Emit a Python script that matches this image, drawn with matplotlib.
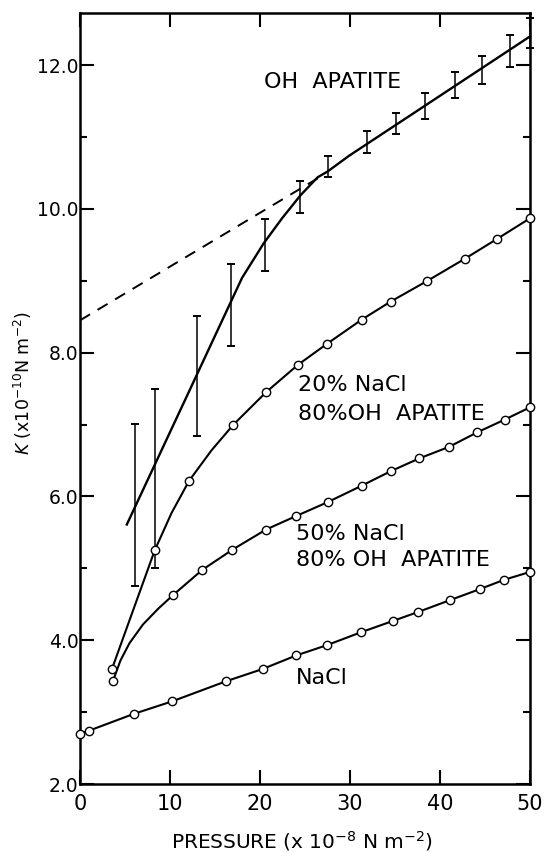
import matplotlib
matplotlib.use("Agg")
import numpy as np
import matplotlib.pyplot as plt

plt.rcParams["font.family"] = "DejaVu Sans"
plt.rcParams["mathtext.fontset"] = "dejavusans"

# NaCl
nacl_x = [0.0, 0.96, 5.96, 10.24, 16.24, 20.3, 24.05, 27.4, 31.2, 34.8, 37.5, 41.15, 44.4, 47.1, 50.0]
nacl_y = [2.70, 2.74, 2.975, 3.15, 3.43, 3.60, 3.79, 3.93, 4.11, 4.27, 4.39, 4.56, 4.71, 4.84, 4.95]

# 50% NaCl mixture (measured points)
mix50_x = [3.65, 10.35, 13.6, 16.94, 20.67, 24.05, 27.5, 31.3, 34.5, 37.7, 41.0, 44.1, 47.2, 50.0]
mix50_y = [3.43, 4.63, 4.98, 5.26, 5.54, 5.73, 5.92, 6.15, 6.35, 6.53, 6.69, 6.89, 7.07, 7.24]
# hand-drawn curve through the low-pressure part
mix50_curve_x = [3.65, 4.5, 5.5, 7.0, 8.7, 10.35]
mix50_curve_y = [3.43, 3.72, 3.96, 4.22, 4.44, 4.63]

# 20% NaCl mixture
mix20_x = [3.55, 8.3, 12.13, 17.05, 20.67, 24.2, 27.4, 31.3, 34.5, 38.6, 42.8, 46.3, 50.0]
mix20_y = [3.60, 5.25, 6.22, 7.00, 7.45, 7.83, 8.12, 8.46, 8.71, 9.00, 9.31, 9.58, 9.87]
# extra points on the drawn curve between the first measurements
mix20_curve_x = [3.55, 8.3, 10.17, 12.13, 14.6, 17.05]
mix20_curve_y = [3.60, 5.25, 5.77, 6.22, 6.64, 7.00]

# OH apatite: error bar limits
oh_x = [6.15, 8.3, 13.0, 16.8, 20.5, 24.4, 27.5, 31.9, 35.1, 38.3, 41.7, 44.7, 47.8, 50.0]
oh_lo = [4.76, 5.00, 6.84, 8.10, 9.13, 9.94, 10.44, 10.78, 11.04, 11.25, 11.54, 11.74, 11.98, 12.24]
oh_hi = [7.01, 7.50, 8.51, 9.23, 9.86, 10.39, 10.74, 11.09, 11.33, 11.61, 11.90, 12.13, 12.42, 12.65]

# OH apatite fitted curve and its linear extrapolation
oh_curve_x = [5.2, 12.0, 18.0, 20.4, 22.45, 24.5, 26.4, 27.5, 29.9, 50.0]
oh_curve_y = [5.61, 7.43, 9.04, 9.52, 9.87, 10.19, 10.44, 10.52, 10.74, 12.40]
oh_extrap_x = [0.0, 27.0]
oh_extrap_y = [8.45, 10.47]

x_ticks = [0, 10, 20, 30, 40, 50]
y_ticks = [2.0, 4.0, 6.0, 8.0, 10.0, 12.0]

fig = plt.figure(figsize=(5.45, 8.52), dpi=100)
ax = fig.add_axes([0.1468, 0.0798, 0.8257, 0.9053])

line_kw = dict(color="black", lw=1.5, clip_on=False)
mark_kw = dict(ls="none", marker="o", ms=6, mfc="white", mec="black", mew=1.0,
               clip_on=False, zorder=4)

ax.plot(nacl_x, nacl_y, **line_kw)
ax.plot(nacl_x, nacl_y, **mark_kw)

ax.plot(mix50_curve_x + mix50_x[2:], mix50_curve_y + mix50_y[2:], **line_kw)
ax.plot(mix50_x, mix50_y, **mark_kw)

ax.plot(mix20_curve_x + mix20_x[4:], mix20_curve_y + mix20_y[4:], **line_kw)
ax.plot(mix20_x, mix20_y, **mark_kw)

oh_lo = np.array(oh_lo)
oh_hi = np.array(oh_hi)
oh_mid = (oh_lo + oh_hi) / 2
oh_err = (oh_hi - oh_lo) / 2
ax.errorbar(oh_x, oh_mid, yerr=oh_err, fmt="none", ecolor="black",
            elinewidth=1.1, capsize=3.0, capthick=1.4, clip_on=False)
ax.plot(oh_curve_x, oh_curve_y, color="black", lw=1.7, clip_on=False)
ax.plot(oh_extrap_x, oh_extrap_y, color="black", lw=1.4, ls=(0, (6, 4.5)))

text_kw = dict(fontsize=16, ha="left", va="center")
ax.text(20.4, 11.76, "OH  APATITE", **text_kw)
ax.text(24.2, 7.55, "20% NaCl", **text_kw)
ax.text(24.2, 7.15, "80%OH  APATITE", **text_kw)
ax.text(23.95, 5.48, "50% NaCl", **text_kw)
ax.text(23.95, 5.11, "80% OH  APATITE", **text_kw)
ax.text(23.95, 3.48, "NaCl", **text_kw)

ax.set_xlim(0, 50)
ax.set_ylim(2.0, 12.73)
ax.set_xticks(x_ticks)
ax.set_xticklabels([str(t) for t in x_ticks])
ax.set_yticks(y_ticks)
ax.set_yticks(np.array(y_ticks[:-1]) + 1.0, minor=True)
ax.set_yticklabels(["%.1f" % t for t in y_ticks])

ax.tick_params(axis="x", direction="in", top=True, length=10, width=1.5,
               pad=7, labelsize=15)
ax.tick_params(axis="y", which="major", direction="in", right=True,
               length=10, width=1.5, pad=1, labelsize=13.5)
ax.tick_params(axis="y", which="minor", direction="in", right=True,
               length=5, width=1.5)
for s in ax.spines.values():
    s.set_linewidth(1.8)

ax.set_xlabel(r"PRESSURE (x 10$^{-8}$ N m$^{-2}$)", fontsize=14.5, va="center")
ax.xaxis.set_label_coords(0.493, -0.0735)
ax.set_ylabel(r"$K$ (x10$^{-10}$N m$^{-2}$)", fontsize=12.5, va="center")
ax.yaxis.set_label_coords(-0.127, 0.52)

fig.savefig("out.png", dpi=100)
